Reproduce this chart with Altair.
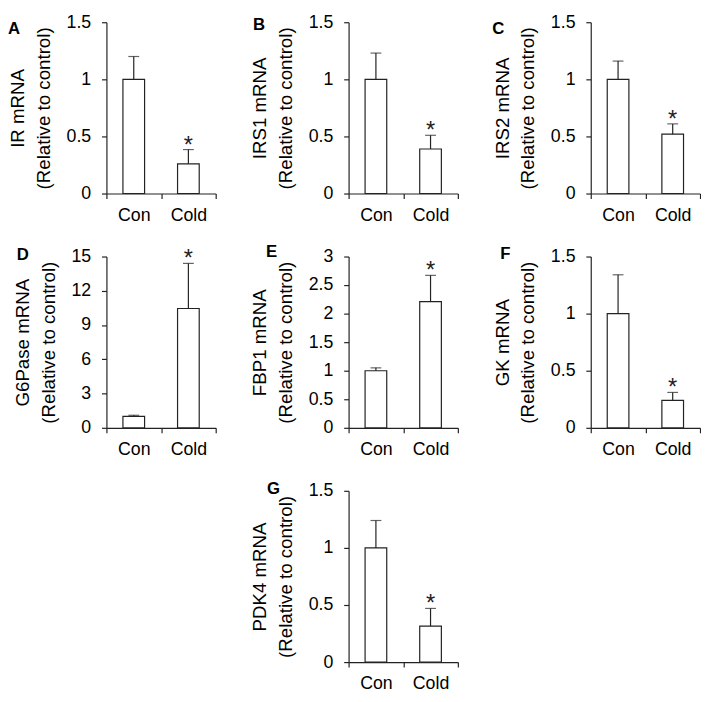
import altair as alt
import pandas as pd

# ---- data ----
groups = ["Con", "Cold"]
letters = ["A", "B", "C", "D", "E", "F", "G"]
genes = ["IR", "IRS1", "IRS2", "G6Pase", "FBP1", "GK", "PDK4"]
con_mean = [1.0, 1.0, 1.0, 1.0, 1.0, 1.0, 1.0]
con_upper = [1.20, 1.23, 1.16, 1.10, 1.05, 1.34, 1.24]
cold_mean = [0.26, 0.39, 0.52, 10.45, 2.21, 0.24, 0.315]
cold_upper = [0.385, 0.51, 0.61, 14.4, 2.67, 0.31, 0.47]
cold_sig = ["*", "*", "*", "*", "*", "*", "*"]
y_max = [1.5, 1.5, 1.5, 15, 3, 1.5, 1.5]
y_ticks = [
    [0, 0.5, 1, 1.5],
    [0, 0.5, 1, 1.5],
    [0, 0.5, 1, 1.5],
    [0, 3, 6, 9, 12, 15],
    [0, 0.5, 1, 1.5, 2, 2.5, 3],
    [0, 0.5, 1, 1.5],
    [0, 0.5, 1, 1.5],
]

# ---- layout / style ----
FONT = "Liberation Sans"
INK = "#222222"
W, H = 111, 174
letter_dx = [-100, -97, -100, -91, -84, -92, -83]
letter_top = [-1, -5, -1, -9, -13, -10, -10]


def panel(i):
    df = pd.DataFrame({
        "group": groups,
        "mean": [con_mean[i], cold_mean[i]],
        "upper": [con_upper[i], cold_upper[i]],
        "sig": ["", cold_sig[i]],
    })
    yscale = alt.Scale(domain=[0, y_max[i]], nice=False, zero=True)
    y_axis = alt.Axis(
        values=y_ticks[i],
        format="~g",
        labelOverlap=False,
        title=[f"{genes[i]} mRNA", "(Relative to control)"],
    )
    x_enc = alt.X(
        "group:N",
        sort=groups,
        scale=alt.Scale(paddingInner=0, paddingOuter=0),
        axis=alt.Axis(title=None, tickBand="extent", labelAngle=0),
    )
    base = alt.Chart(df)
    bars = base.mark_bar(width=22, fill="white", stroke=INK, strokeWidth=1.2).encode(
        x=x_enc,
        y=alt.Y("mean:Q", scale=yscale, axis=y_axis),
    )
    whisk = base.mark_rule(color=INK, strokeWidth=1.2).encode(
        x=alt.X("group:N", sort=groups), y=alt.Y("mean:Q", axis=y_axis), y2="upper:Q"
    )
    cap = base.mark_tick(color=INK, size=11, thickness=1.2).encode(
        x=alt.X("group:N", sort=groups), y=alt.Y("upper:Q", axis=y_axis)
    )
    star = base.mark_text(
        font=FONT, fontSize=24, color=INK, baseline="alphabetic", dy=3
    ).encode(
        x=alt.X("group:N", sort=groups),
        y=alt.Y("upper:Q", axis=y_axis),
        text="sig:N",
    )
    letter = alt.Chart(pd.DataFrame({"letter": [letters[i]]})).mark_text(
        font=FONT, fontSize=17, fontWeight="bold", color="black",
        align="left", baseline="top",
    ).encode(
        x=alt.value(letter_dx[i]), y=alt.value(letter_top[i]), text="letter:N"
    )
    return alt.layer(bars, whisk, cap, star, letter).properties(width=W, height=H)


blank = (
    alt.Chart(pd.DataFrame({"v": [0]}))
    .mark_point(opacity=0)
    .encode(x=alt.X("v:Q", axis=None), y=alt.Y("v:Q", axis=None))
    .properties(width=W, height=H)
)

chart = (
    alt.concat(
        panel(0), panel(1), panel(2),
        panel(3), panel(4), panel(5),
        blank, panel(6),
        columns=3,
        spacing=alt.RowColnumber(row=64, column=135),
        bounds="flush",
    )
    .properties(padding=0)
    .configure(font=FONT)
    .configure_view(stroke=None)
    .configure_axis(
        grid=False,
        labelOverlap=False,
        domainColor=INK,
        tickColor=INK,
        domainWidth=1.2,
        tickWidth=1.2,
        labelColor="black",
        titleColor="black",
        labelFont=FONT,
        titleFont=FONT,
        labelFontSize=18,
        titleFontSize=19,
        titleFontWeight="normal",
    )
    .configure_axisX(tickSize=5, labelPadding=8)
    .configure_axisY(tickSize=5, labelPadding=11, titlePadding=13, titleLineHeight=26)
)

chart.save("out.html", embed_options={"renderer": "svg", "actions": False})
